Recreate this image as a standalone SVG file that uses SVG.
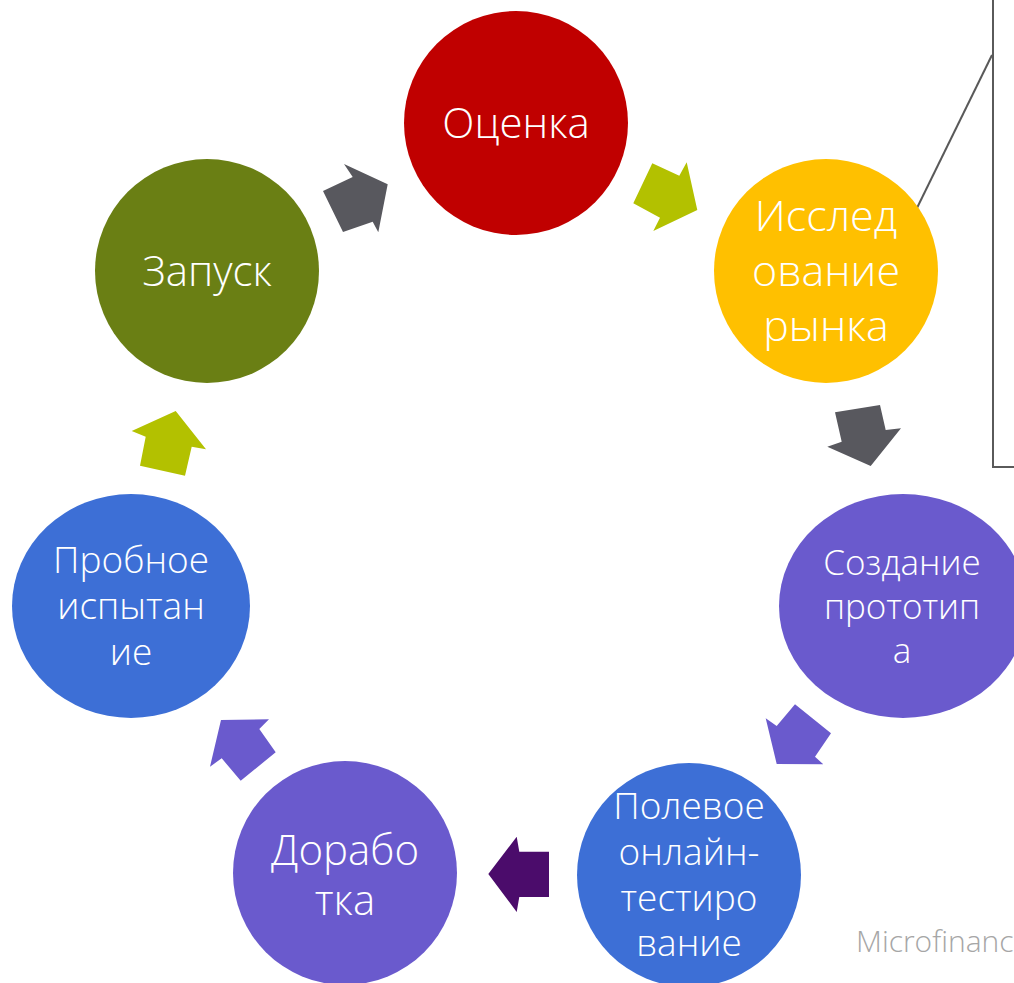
<svg xmlns="http://www.w3.org/2000/svg" width="1014" height="983" viewBox="0 0 1014 983">
<style>
text.l{font-family:"Open Sans","Liberation Sans",sans-serif;font-weight:300;fill:#ffffff;text-anchor:middle}
.gray{fill:#58585E}.olive{fill:#B3C100}.purp{fill:#6A5ACD}.dpurp{fill:#4B0C6B}
</style>
<rect x="0" y="0" width="1014" height="983" fill="#ffffff"/>
<g id="callout">
<rect x="993" y="-4" width="40" height="471" fill="none" stroke="#5a5a5a" stroke-width="2"/>
<line x1="992" y1="55" x2="916" y2="210" stroke="#595959" stroke-width="2"/>
</g>
<g id="otsenka"><circle cx="516" cy="123" r="112" fill="#C00000"/><text class="l" x="516" y="138" font-size="42">Оценка</text></g>
<g id="issledovanie"><circle cx="826" cy="271" r="112" fill="#FFC000"/><text class="l" font-size="43"><tspan x="826" y="231">Исслед</tspan><tspan x="826" y="286">ование</tspan><tspan x="826" y="341">рынка</tspan></text></g>
<g id="sozdanie"><ellipse cx="903" cy="606" rx="124" ry="112" fill="#6A5ACD"/><text class="l" font-size="35"><tspan x="902" y="575">Создание</tspan><tspan x="902" y="619">прототип</tspan><tspan x="902" y="663">а</tspan></text></g>
<g id="polevoe"><circle cx="689" cy="875" r="112" fill="#3D6FD6"/><text class="l" font-size="37"><tspan x="689" y="819">Полевое</tspan><tspan x="689" y="865">онлайн-</tspan><tspan x="689" y="911">тестиро</tspan><tspan x="689" y="956">вание</tspan></text></g>
<g id="dorabotka"><circle cx="345" cy="873" r="112" fill="#6A5ACD"/><text class="l" font-size="42"><tspan x="345" y="865">Дорабо</tspan><tspan x="345" y="915">тка</tspan></text></g>
<g id="probnoe"><ellipse cx="131" cy="606" rx="119" ry="112" fill="#3D6FD6"/><text class="l" font-size="37"><tspan x="131" y="573">Пробное</tspan><tspan x="131" y="619">испытан</tspan><tspan x="131" y="665">ие</tspan></text></g>
<g id="zapusk"><circle cx="207" cy="271" r="112" fill="#6A7F14"/><text class="l" x="207" y="286" font-size="42">Запуск</text></g>
<g id="connectors">
<polygon class="gray" points="323,191 352.7,177 344,164 387.7,184.3 378.3,232.3 372.7,221.7 343,232"/>
<polygon class="olive" points="652.3,163.3 679.3,175.7 686.7,162.3 697.3,210 653.3,231 660,217.7 633.3,203.3"/>
<polygon class="gray" points="835,412.3 880,405 885.7,430 901,428.3 870.7,466 827.3,446.7 841.7,441.7"/>
<polygon class="purp" points="795,704.3 831,733.3 815,756.7 823.3,764.3 776.7,764 765.7,718.3 776.7,726"/>
<polygon class="dpurp" points="549,851.7 549,897 519.3,897 516.7,912 488.3,874 516.7,836.7 519.3,851.7"/>
<polygon class="purp" points="221,720 269,719.3 259.3,729 275.7,752.3 240.7,780.7 221.7,758.3 210,766.7"/>
<polygon class="olive" points="175.7,411 206,449.3 191.7,446.7 185,475.7 140,465.7 145.7,436.7 131.7,431"/>
</g>
<text x="856" y="952" font-family="'Open Sans','Liberation Sans',sans-serif" font-weight="300" font-size="30" fill="#A6A6A6">Microfinance</text>
</svg>
